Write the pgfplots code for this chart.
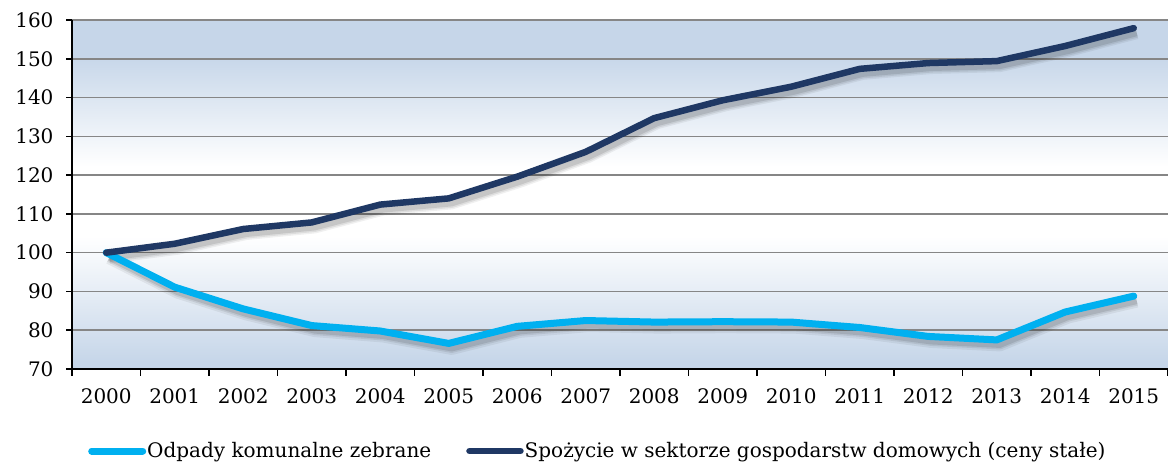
\documentclass[border=0pt]{standalone}
\usepackage{fontspec}
\setmainfont{DejaVu Serif}
\usepackage{pgfplots}
\usepackage{pgfplotstable}
\pgfplotsset{compat=1.18}
\definecolor{lightline}{HTML}{00B0F0}
\definecolor{darkline}{HTML}{1F3864}
\definecolor{bgblue}{HTML}{C6D6E9}
\definecolor{gridgray}{HTML}{868686}
\pgfdeclareverticalshading{bgshade}{100bp}{color(0bp)=(bgblue); color(26bp)=(bgblue); color(44bp)=(white); color(54bp)=(white); color(70bp)=(bgblue); color(100bp)=(bgblue)}
\pgfplotstableread{
x odpady spozycie
0 100.0 100.0
1 91.1 102.3
2 85.5 106.1
3 81.2 107.8
4 79.8 112.4
5 76.6 114.0
6 81.0 119.6
7 82.5 126.0
8 82.1 134.7
9 82.2 139.3
10 82.1 142.8
11 80.7 147.4
12 78.4 148.9
13 77.5 149.4
14 84.7 153.3
15 88.8 157.9
}\datatable
\begin{document}
\begin{tikzpicture}[x=1pt,y=1pt]
\path[use as bounding box] (0,0) rectangle (1168,463);
\begin{axis}[
  at={(72pt,94pt)}, anchor=south west,
  scale only axis, width=1096pt, height=349pt,
  xmin=-0.5, xmax=15.5, ymin=70, ymax=160,
  axis x line*=bottom, axis y line*=left,
  axis line style={black, line width=2pt},
  xtick={0,...,15},
  xticklabels={2000,2001,2002,2003,2004,2005,2006,2007,2008,2009,2010,2011,2012,2013,2014,2015},
  minor xtick={-0.5,0.5,...,15.5},
  major x tick style={draw=none},
  minor tick length=7pt,
  ytick={70,80,...,160},
  tick align=outside,
  major tick length=6pt,
  tick style={black, line width=1.5pt},
  ymajorgrids, major grid style={gridgray, line width=1.5pt},
  axis background/.style={shading=bgshade},
  ticklabel style={font=\fontsize{20}{24}\selectfont},
  /pgf/number format/assume math mode=true,
  yticklabel style={xshift=-9pt},
  xticklabel style={yshift=-10pt},
  legend columns=2,
  legend style={draw=none, fill=none, at={(0.0146,-0.235)}, anchor=west,
    font=\fontsize{20}{24}\selectfont, inner sep=0pt,
    /tikz/every even column/.append style={column sep=34pt},
    nodes={inner sep=1pt}},
  legend image code/.code={\draw[#1, line cap=round] (3pt,0pt) -- (54pt,0pt);},
]
\addplot[forget plot, draw=black, opacity=0.06, line width=13pt, line join=round, xshift=3pt, yshift=-5pt] table[x=x,y=odpady]{\datatable};
\addplot[forget plot, draw=black, opacity=0.08, line width=9pt, line join=round, xshift=3pt, yshift=-5pt] table[x=x,y=odpady]{\datatable};
\addplot[forget plot, draw=black, opacity=0.10, line width=6pt, line join=round, xshift=3pt, yshift=-5pt] table[x=x,y=odpady]{\datatable};
\addplot[forget plot, draw=black, opacity=0.06, line width=12pt, line join=round, xshift=3pt, yshift=-5pt] table[x=x,y=spozycie]{\datatable};
\addplot[forget plot, draw=black, opacity=0.08, line width=9pt, line join=round, xshift=3pt, yshift=-5pt] table[x=x,y=spozycie]{\datatable};
\addplot[forget plot, draw=black, opacity=0.10, line width=6pt, line join=round, xshift=3pt, yshift=-5pt] table[x=x,y=spozycie]{\datatable};
\addplot[lightline, line width=7pt, line join=round, line cap=round] table[x=x,y=odpady]{\datatable};
\addlegendentry{Odpady komunalne zebrane}
\addplot[darkline, line width=6.5pt, line join=round, line cap=round] table[x=x,y=spozycie]{\datatable};
\addlegendentry{Spożycie w sektorze gospodarstw domowych (ceny stałe)}
\end{axis}
\end{tikzpicture}
\end{document}
